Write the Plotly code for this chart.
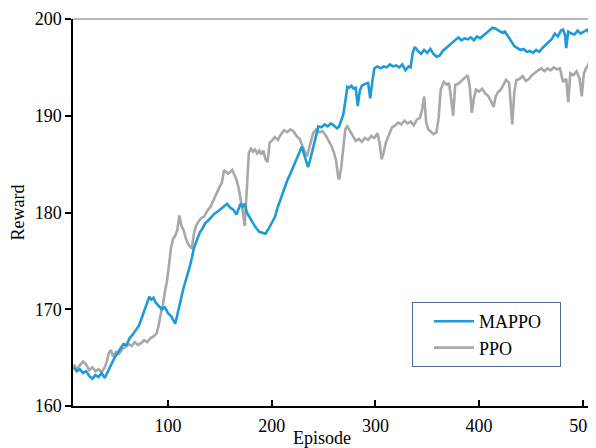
import plotly.graph_objects as go

mappo_ep = [9,12,15,18,21,24,27,30,33,36,39,42,45,48,51,54,57,60,63,66,69,72,75,78,80,82,84,86,88,91,94,97,100,103,105,107,109,111,113,115,117,119,121,123,125,127,129,131,133,136,139,142,145,148,151,154,157,160,163,166,168,170,172,174,176,179,182,185,188,191,194,197,200,203,206,209,212,215,218,221,224,227,229,231,233,235,237,239,241,243,245,248,251,254,257,260,263,265,267,269,271,273,275,277,279,281,283,285,287,290,293,295,297,299,302,305,308,311,314,317,320,323,326,329,332,334,336,338,341,344,347,350,353,356,359,362,365,368,371,374,377,380,383,386,389,392,395,398,401,404,407,410,413,416,419,422,425,428,431,434,437,440,443,446,449,452,455,458,461,464,467,470,473,476,479,481,483,484,486,489,492,495,498,501,504,506]
mappo_reward = [164.0,163.6,163.8,163.4,163.6,163.1,162.8,163.2,163.0,163.4,162.9,163.6,164.3,164.9,165.4,165.9,166.4,166.3,167.0,167.4,167.8,168.3,169.2,170.1,170.9,171.3,171.0,171.2,170.7,170.4,170.0,170.2,169.6,169.3,168.9,168.5,169.4,170.2,171.3,172.2,172.9,173.6,174.4,175.3,176.3,176.9,177.5,178.0,178.3,178.9,179.2,179.6,179.9,180.1,180.4,180.7,180.9,180.5,180.3,179.8,180.4,180.9,180.6,180.9,180.0,179.4,178.9,178.4,178.0,177.9,177.8,178.3,178.9,179.5,180.6,181.5,182.6,183.3,184.0,184.8,185.5,186.4,186.8,186.1,185.3,184.7,185.4,186.3,187.3,188.2,188.9,188.8,189.1,188.9,189.2,189.0,188.7,188.9,189.5,190.1,191.5,193.0,192.9,193.1,192.8,192.9,191.0,192.6,193.1,193.3,193.4,191.8,193.5,194.9,195.1,194.9,195.1,195.0,195.3,195.1,195.2,195.0,195.3,194.7,195.1,195.0,196.5,197.1,196.7,196.4,196.8,196.5,196.9,196.4,196.1,196.2,196.7,197.0,197.3,197.6,197.8,198.1,197.8,198.0,197.9,198.1,197.8,198.2,198.0,198.3,198.5,198.8,199.1,199.0,198.8,198.6,198.7,198.2,197.7,197.2,197.0,196.8,196.9,196.6,196.7,196.5,196.8,196.6,197.0,197.3,197.6,197.9,198.5,198.2,198.8,198.9,198.3,197.0,198.7,198.5,198.4,198.8,198.5,198.7,198.9,198.6]

ppo_ep = [9,12,15,18,21,24,27,30,33,36,39,41,43,45,47,50,53,56,59,62,65,68,71,74,77,80,83,86,89,91,93,95,97,99,101,103,105,107,109,111,113,115,117,119,121,123,125,127,129,132,135,138,141,144,147,150,152,154,156,158,160,162,164,166,168,170,172,174,176,178,180,182,184,186,188,190,192,194,196,198,200,203,206,209,212,215,218,221,224,227,230,232,234,236,238,240,243,246,249,252,255,258,260,262,264,265,267,269,271,273,275,277,279,281,284,287,290,293,296,299,302,304,306,308,310,313,316,319,322,325,328,331,334,337,340,343,345,347,349,351,353,356,359,361,363,366,369,371,373,375,377,380,383,386,389,391,393,395,397,400,403,406,409,412,414,416,418,421,424,426,429,431,432,434,436,439,442,445,448,451,454,457,460,463,466,469,472,475,478,481,484,486,488,491,494,497,499,501,503,505,506]
ppo_reward = [164.3,163.8,164.2,164.6,164.3,163.7,164.0,163.6,163.8,163.5,164.0,164.6,165.5,165.8,165.1,165.6,165.4,165.9,166.1,166.4,166.2,166.6,166.3,166.5,166.8,166.6,167.0,167.2,167.5,168.3,169.5,170.4,171.8,172.9,174.6,176.4,177.3,177.6,178.2,179.7,178.6,178.2,177.4,176.8,176.5,176.3,177.8,178.6,179.0,179.4,179.6,180.2,180.6,181.4,182.0,182.7,183.1,184.4,184.2,184.0,184.2,184.4,183.9,183.4,182.6,181.5,180.2,178.6,183.0,186.2,186.6,186.3,186.5,186.1,186.4,186.0,186.4,185.5,185.2,187.2,187.4,187.8,187.5,188.1,188.5,188.3,188.6,188.4,187.9,187.6,186.8,186.2,185.8,186.6,187.4,188.2,188.6,188.3,188.4,188.0,187.4,186.8,186.2,185.4,183.8,183.4,184.6,186.7,188.6,188.9,188.5,188.1,187.7,187.4,187.6,187.3,187.7,187.5,187.9,187.7,188.2,187.2,185.5,186.2,187.2,188.1,188.8,189.0,189.3,189.1,189.5,189.2,189.4,189.0,189.6,189.8,190.6,192.0,189.3,188.6,188.4,188.1,188.3,189.8,192.7,193.5,193.2,193.4,191.8,190.0,193.2,193.3,193.6,193.9,194.2,193.0,190.3,191.8,192.7,192.5,192.8,192.3,192.0,191.4,190.9,192.0,192.4,192.7,193.3,193.7,193.4,190.8,189.1,192.5,193.7,193.8,194.1,193.6,193.8,194.2,194.5,194.7,194.9,194.6,194.9,194.7,195.0,194.8,194.9,193.5,193.8,191.4,194.4,194.2,194.6,193.8,192.0,194.3,194.9,195.2,195.5]

x_ticks = [100, 200, 300, 400, 500]
y_ticks = [160, 170, 180, 190, 200]

font = "Liberation Serif, Times New Roman, serif"
pad = "\u00a0" * 3

fig = go.Figure()
fig.add_trace(go.Scatter(x=ppo_ep, y=ppo_reward, mode="lines", name="PPO",
                         line=dict(color="#a8a8a8", width=2.6)))
fig.add_trace(go.Scatter(x=mappo_ep, y=mappo_reward, mode="lines", name="MAPPO" + pad,
                         line=dict(color="#1d9ad9", width=2.6)))

fig.update_layout(
    width=588, height=440,
    margin=dict(l=65, r=7, t=11, b=42, autoexpand=False),
    paper_bgcolor="white", plot_bgcolor="white",
    font=dict(family=font, size=18, color="black"),
    showlegend=True,
    legend=dict(x=0.657, y=0.2687, xanchor="left", yanchor="top",
                bordercolor="#4f6a96", borderwidth=1, bgcolor="white",
                traceorder="reversed", font=dict(family=font, size=18),
                itemwidth=40, indentation=16),
    xaxis=dict(range=[8.4, 506], tickmode="array", tickvals=x_ticks,
               ticks="inside", ticklen=6, tickwidth=1.5, tickcolor="black",
               showline=True, linecolor="black", linewidth=1.5,
               showgrid=False, zeroline=False, ticklabeloverflow="allow",
               ticklabelstandoff=3, automargin=False),
    yaxis=dict(range=[160, 200], tickmode="array", tickvals=y_ticks,
               ticks="outside", ticklen=6, tickwidth=1.5, tickcolor="black",
               showline=True, linecolor="black", linewidth=1.5,
               showgrid=False, zeroline=False, automargin=False,
               title=dict(text="Reward", standoff=6, font=dict(size=18))),
    annotations=[
        dict(text="Episode", xref="paper", yref="paper", x=0.483, y=-0.083,
             xanchor="center", yanchor="middle", showarrow=False,
             font=dict(family=font, size=18)),
    ],
    shapes=[
        dict(type="line", xref="paper", yref="paper", x0=0, x1=1, y0=1, y1=1,
             line=dict(color="#707070", width=1.2)),
        dict(type="line", xref="paper", yref="paper", x0=1, x1=1, y0=0, y1=1,
             line=dict(color="#707070", width=1.2)),
    ],
)

fig.write_html("out.html")
